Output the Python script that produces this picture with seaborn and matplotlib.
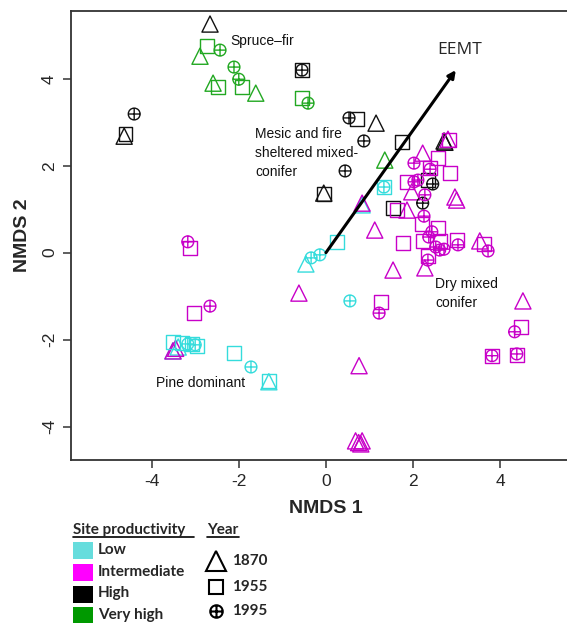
import numpy as np
import pandas as pd
import matplotlib
matplotlib.use("Agg")
import matplotlib.pyplot as plt
from matplotlib.path import Path
from matplotlib.patches import Rectangle
from matplotlib.lines import Line2D
import seaborn as sns

# ---------------- data (NMDS scores) ----------------
productivity = ["Low", "Intermediate", "High", "Very high"]
years = ["1870", "1955", "1995"]

# High productivity
high_1870_x = [-2.66, -4.63, 1.15, -0.05, 2.73, 2.71]
high_1870_y = [5.26, 2.68, 2.98, 1.37, 2.54, 2.57]
high_1955_x = [-0.55, -4.60, 0.71, 1.74, -0.05, 2.34, 1.54]
high_1955_y = [4.20, 2.72, 3.07, 2.54, 1.35, 1.67, 1.03]
high_1995_x = [-0.55, -4.40, 0.53, 0.87, 0.44, 2.45, 2.22]
high_1995_y = [4.20, 3.19, 3.10, 2.57, 1.88, 1.58, 1.14]

# Very high productivity
vhigh_1870_x = [-2.89, -2.59, -1.61, 1.35]
vhigh_1870_y = [4.52, 3.90, 3.67, 2.13]
vhigh_1955_x = [-2.73, -2.48, -1.93, -0.55]
vhigh_1955_y = [4.75, 3.81, 3.81, 3.56]
vhigh_1995_x = [-2.43, -2.11, -2.00, -0.41]
vhigh_1995_y = [4.66, 4.27, 3.99, 3.44]

# Low productivity
low_1870_x = [-0.46, -3.51, -3.39, -1.31, 0.83]
low_1870_y = [-0.26, -2.26, -2.17, -2.97, 1.10]
low_1955_x = [0.25, 1.33, -3.51, -3.30, -3.07, -2.96, -2.11, -1.31]
low_1955_y = [0.25, 1.51, -2.05, -2.07, -2.10, -2.15, -2.31, -2.95]
low_1995_x = [-0.34, -0.14, 0.55, -1.72, 1.33, -3.17, -3.00]
low_1995_y = [-0.12, -0.05, -1.11, -2.63, 1.51, -2.10, -2.12]

# Intermediate productivity
int_1870_x = [2.80, 2.22, 1.97, 2.96, 3.00, 1.86, 1.12, 3.53, 1.54, 2.27,
              -0.62, 4.52, 0.76, 0.68, 0.75, 0.83, 0.80, 0.83, -3.51, -3.45]
int_1870_y = [2.61, 2.29, 1.40, 1.28, 1.21, 0.98, 0.52, 0.27, -0.40, -0.35,
              -0.93, -1.11, -2.60, -4.33, -4.37, -4.33, -4.40, 1.14, -2.26, -2.20]
int_1955_x = [2.82, 2.57, 2.39, 2.84, 1.86, 1.63, 2.20, 2.57, 1.77, 2.22,
              2.61, 3.00, 3.62, 2.34, -3.12, -3.03, 1.26, 4.47, 3.81, 4.38]
int_1955_y = [2.59, 2.18, 1.95, 1.83, 1.63, 0.98, 0.66, 0.57, 0.22, 0.27,
              0.27, 0.29, 0.20, -0.08, 0.11, -1.39, -1.13, -1.71, -2.37, -2.35]
int_1995_x = [2.02, 2.39, 2.02, 2.11, 2.27, 2.25, 2.43, 2.36, 2.52, 2.71,
              3.03, 3.72, 2.34, 2.61, -3.17, -2.66, 1.22, 4.33, 3.81, 4.38]
int_1995_y = [2.06, 1.92, 1.63, 1.67, 1.33, 0.84, 0.48, 0.36, 0.13, 0.08,
              0.18, 0.04, -0.17, 0.06, 0.25, -1.23, -1.39, -1.82, -2.37, -2.33]

# EEMT vector
eemt_x = [0.0, 2.98]
eemt_y = [0.0, 4.20]

# group labels
group_labels = ["Spruce\u2013fir", "Mesic and fire\nsheltered mixed-\nconifer",
                "Dry mixed\nconifer", "Pine dominant"]
group_label_x = [-2.19, -1.63, 2.51, -3.90]
group_label_y = [4.86, 2.30, -0.95, -3.00]

x_ticks = [-4, -2, 0, 2, 4]
y_ticks = [-4, -2, 0, 2, 4]

# ---------------- build table ----------------
series = {
    ("High", "1870"): (high_1870_x, high_1870_y),
    ("High", "1955"): (high_1955_x, high_1955_y),
    ("High", "1995"): (high_1995_x, high_1995_y),
    ("Very high", "1870"): (vhigh_1870_x, vhigh_1870_y),
    ("Very high", "1955"): (vhigh_1955_x, vhigh_1955_y),
    ("Very high", "1995"): (vhigh_1995_x, vhigh_1995_y),
    ("Low", "1870"): (low_1870_x, low_1870_y),
    ("Low", "1955"): (low_1955_x, low_1955_y),
    ("Low", "1995"): (low_1995_x, low_1995_y),
    ("Intermediate", "1870"): (int_1870_x, int_1870_y),
    ("Intermediate", "1955"): (int_1955_x, int_1955_y),
    ("Intermediate", "1995"): (int_1995_x, int_1995_y),
}
rows = []
for (p, yr), (xs, ys) in series.items():
    for a, b in zip(xs, ys):
        rows.append({"NMDS1": a, "NMDS2": b, "prod": p, "year": yr})
df = pd.DataFrame(rows)

# ---------------- style ----------------
sns.set_theme(style="ticks")
plt.rcParams["font.family"] = ["Liberation Sans", "DejaVu Sans"]

marker_pal = {"Low": "#35DCDC", "Intermediate": "#C800C8",
              "High": "#111111", "Very high": "#22A822"}
legend_pal = {"Low": "#66DDDD", "Intermediate": "#FF00FF",
              "High": "#000000", "Very high": "#009900"}

oplus = Path.make_compound_path(
    Path.unit_circle(),
    Path([[-1, 0], [1, 0]], [Path.MOVETO, Path.LINETO]),
    Path([[0, -1], [0, 1]], [Path.MOVETO, Path.LINETO]),
)
year_marker = {"1870": "^", "1955": "s", "1995": oplus}
year_size = {"1870": 135, "1955": 100, "1995": 72}

W, H = 567, 623
fig = plt.figure(figsize=(W / 100, H / 100), dpi=100)
ax = fig.add_axes([71 / W, 1 - 460 / H, (580 - 71) / W, (460 - 11) / H])

for yr in years:
    sub = df[df["year"] == yr]
    sns.scatterplot(data=sub, x="NMDS1", y="NMDS2", hue="prod", palette=marker_pal,
                    marker=year_marker[yr], s=year_size[yr], linewidth=0,
                    legend=False, ax=ax, zorder=3)

# make markers hollow
for coll in ax.collections:
    fc = coll.get_facecolors()
    coll.set_edgecolors(fc)
    coll.set_facecolors("none")
    coll.set_linewidths(1.0)

# EEMT arrow
ax.annotate("", xy=(eemt_x[1], eemt_y[1]), xytext=(eemt_x[0], eemt_y[0]),
            arrowprops=dict(arrowstyle="-|>", color="black", lw=2.2,
                            mutation_scale=11, shrinkA=0, shrinkB=0), zorder=4)
ax.text(2.55, 4.66, "EEMT", fontsize=12.5, ha="left", va="center",
        family=["Open Sans", "DejaVu Sans"])

for lab, lx, ly in zip(group_labels, group_label_x, group_label_y):
    ax.text(lx, ly, lab, fontsize=10, ha="left", va="center", linespacing=1.45,
            color="#111111", zorder=5)

ax.set_xlim(-5.85, 5.83)
ax.set_ylim(-4.77, 5.56)
ax.set_xticks(x_ticks)
ax.set_yticks(y_ticks)
ax.set_xticklabels([str(t) for t in x_ticks], fontsize=12.5)
ax.set_yticklabels([str(t) for t in y_ticks], fontsize=12.5, rotation=90, va="center")
ax.tick_params(axis="both", length=6, width=1.1, color="#333333", pad=4)
for s in ["left", "bottom", "top"]:
    ax.spines[s].set_linewidth(1.3)
    ax.spines[s].set_color("#333333")
ax.spines["right"].set_visible(False)
ax.set_xlabel("NMDS 1", fontsize=14, fontweight="bold", labelpad=8)
ax.set_ylabel("NMDS 2", fontsize=14, fontweight="bold", labelpad=8)

# ---------------- custom legend ----------------
def fx(px):
    return px / W

def fy(py):
    return 1 - py / H

lfont = ["Lato", "DejaVu Sans"]
fig.text(fx(73), fy(530), "Site productivity", fontsize=11, fontweight="bold",
         family=lfont, ha="left", va="center")
fig.add_artist(Line2D([fx(73), fx(194)], [fy(537), fy(537)], color="black", lw=1.2))
fig.text(fx(207), fy(530), "Year", fontsize=11, fontweight="bold",
         family=lfont, ha="left", va="center")
fig.add_artist(Line2D([fx(207), fx(239)], [fy(537), fy(537)], color="black", lw=1.2))

patch_top = [542, 564, 586, 607]
label_y = [550, 572, 593, 615]
for p, t, ly in zip(productivity, patch_top, label_y):
    fig.add_artist(Rectangle((fx(73), fy(t + 17)), 20 / W, 17 / H,
                             transform=fig.transFigure, color=legend_pal[p], lw=0))
    fig.text(fx(98), fy(ly), p, fontsize=11, fontweight="bold", family=lfont,
             ha="left", va="center")

year_y = [561, 587, 611]
year_ms = [14, 10.5, 9]
for yr, yy, ms in zip(years, year_y, year_ms):
    fig.add_artist(Line2D([fx(216)], [fy(yy)], marker=year_marker[yr], ms=ms,
                          mfc="none", mec="black", mew=1.5, ls="none"))
    fig.text(fx(232), fy(yy), yr, fontsize=11, fontweight="bold", family=lfont,
             ha="left", va="center")

fig.savefig("out.png", dpi=100)
